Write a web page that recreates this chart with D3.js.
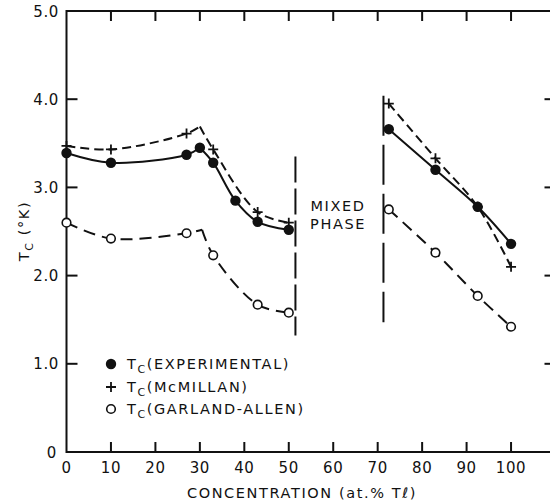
<html><head>
<meta charset="utf-8">
<script src="https://cdnjs.cloudflare.com/ajax/libs/d3/7.8.5/d3.min.js"></script>
<style>
  body { margin: 0; background: #fff; }
  text { font-family: "DejaVu Sans", sans-serif; fill: #111; }
  .tick-label { font-size: 15px; letter-spacing: 0.6px; }
  .lab { font-size: 14.5px; letter-spacing: 1.6px; }
</style>
</head>
<body>
<script>
// x ticks / y ticks
var xTicks = [0, 10, 20, 30, 40, 50, 60, 70, 80, 90, 100];
var yTicks = [0, 1, 2, 3, 4, 5];

// Tc experimental (filled circles, solid line)
var expLeftX = [0, 10, 27, 30, 33, 38, 43, 50];
var expLeftT = [3.39, 3.28, 3.37, 3.45, 3.28, 2.85, 2.61, 2.52];
var expRightX = [72.5, 83, 92.5, 100];
var expRightT = [3.66, 3.20, 2.78, 2.36];

// Tc McMillan (+, dashed); the peak at ~30 is a curve knot with no marker
var mcmLeftX = [0, 10, 27, 33, 43, 50];
var mcmLeftT = [3.47, 3.43, 3.61, 3.43, 2.72, 2.60];
var mcmPeak = [30, 3.69];
var mcmRightX = [72.5, 83, 92.5, 100];
var mcmRightT = [3.95, 3.33, 2.78, 2.10];

// Tc Garland-Allen (open circles, dashed)
var gaLeftX = [0, 10, 27, 33, 43, 50];
var gaLeftT = [2.60, 2.42, 2.48, 2.23, 1.67, 1.58];
var gaPeak = [30.5, 2.52];
var gaRightX = [72.5, 83, 92.5, 100];
var gaRightT = [2.75, 2.26, 1.77, 1.42];

// phase boundaries: concentration, Tc from, Tc to
var phaseX = [51.5, 71.3];
var phaseLo = [1.32, 1.47];
var phaseHi = [3.35, 4.04];

var legendNames = ["(EXPERIMENTAL)", "(McMILLAN)", "(GARLAND-ALLEN)"];

var W = 550, H = 504;
var svg = d3.select("body").append("svg").attr("width", W).attr("height", H);

var x = d3.scaleLinear().domain([0, 110]).range([66.5, 555.5]);
var y = d3.scaleLinear().domain([0, 5]).range([452, 11]);

// frame
var frame = svg.append("g").attr("stroke", "#111").attr("stroke-width", 2).attr("fill", "none");
frame.append("path").attr("d",
  "M" + x(0) + "," + y(5) + "L" + x(0) + "," + y(0) + "L" + x(110) + "," + y(0) +
  "L" + x(110) + "," + y(5) + "Z");

// ticks, all pointing into the plot
xTicks.forEach(function (t) {
  if (t === 0) return;
  frame.append("line").attr("x1", x(t)).attr("x2", x(t)).attr("y1", y(0)).attr("y2", y(0) - 10);
  frame.append("line").attr("x1", x(t)).attr("x2", x(t)).attr("y1", y(5)).attr("y2", y(5) + 10);
});
yTicks.forEach(function (t) {
  if (t === 0 || t === 5) return;
  frame.append("line").attr("x1", x(0)).attr("x2", x(0) + 11).attr("y1", y(t)).attr("y2", y(t));
  frame.append("line").attr("x1", x(110)).attr("x2", x(110) - 11).attr("y1", y(t)).attr("y2", y(t));
});

svg.selectAll(".xl").data(xTicks).enter().append("text")
  .attr("class", "tick-label")
  .attr("x", function (d) { return x(d); })
  .attr("y", 473)
  .attr("text-anchor", "middle")
  .text(function (d) { return d; });

svg.selectAll(".yl").data(yTicks).enter().append("text")
  .attr("class", "tick-label")
  .attr("x", function (d) { return d === 0 ? 57 : 59; })
  .attr("y", function (d) { return y(d) + 5.5; })
  .attr("text-anchor", "end")
  .text(function (d) { return d === 0 ? "0" : d.toFixed(1); });

// axis titles
svg.append("text").attr("class", "lab")
  .attr("x", 302).attr("y", 498).attr("text-anchor", "middle")
  .text("CONCENTRATION  (at.% T\u2113)");

var yt = svg.append("text").attr("class", "lab")
  .attr("transform", "translate(29,231) rotate(-90)")
  .attr("text-anchor", "middle");
yt.append("tspan").text("T");
yt.append("tspan").attr("font-size", "11px").attr("dy", 4).text("C");
yt.append("tspan").attr("dy", -4).text(" (\u00b0K)");

// curves
var line = d3.line()
  .x(function (d) { return x(d[0]); })
  .y(function (d) { return y(d[1]); })
  .curve(d3.curveCatmullRom.alpha(0.5));

function pts(xs, ts) { return xs.map(function (v, i) { return [v, ts[i]]; }); }
function drawCurve(p, dash) {
  svg.append("path").datum(p).attr("d", line)
    .attr("fill", "none").attr("stroke", "#111").attr("stroke-width", 2)
    .attr("stroke-dasharray", dash || null);
}

var expL = pts(expLeftX, expLeftT);
drawCurve(expL.slice(0, 4));
drawCurve(expL.slice(3));
drawCurve(pts(expRightX, expRightT));

var mcmL = pts(mcmLeftX, mcmLeftT);
drawCurve(mcmL.slice(0, 3).concat([mcmPeak]), "9,5");
drawCurve([mcmPeak].concat(mcmL.slice(3)), "9,5");
drawCurve(pts(mcmRightX, mcmRightT), "9,5");

var gaL = pts(gaLeftX, gaLeftT);
drawCurve(gaL.slice(0, 3).concat([gaPeak]), "12,7");
drawCurve([gaPeak].concat(gaL.slice(3)), "12,7");
drawCurve(pts(gaRightX, gaRightT), "12,7");

// phase boundaries
phaseX.forEach(function (p, i) {
  svg.append("line")
    .attr("x1", x(p)).attr("x2", x(p))
    .attr("y1", y(phaseHi[i])).attr("y2", y(phaseLo[i]))
    .attr("stroke", "#111").attr("stroke-width", 2)
    .attr("stroke-dasharray", i === 0 ? "26,6" : "40,9");
});
svg.append("text").attr("class", "lab").attr("x", 338).attr("y", 211)
  .attr("text-anchor", "middle").text("MIXED");
svg.append("text").attr("class", "lab").attr("x", 338).attr("y", 229)
  .attr("text-anchor", "middle").text("PHASE");

// markers
function filled(p) {
  svg.selectAll(null).data(p).enter().append("circle")
    .attr("cx", function (d) { return x(d[0]); })
    .attr("cy", function (d) { return y(d[1]); })
    .attr("r", 5.2).attr("fill", "#111");
}
function open(p) {
  svg.selectAll(null).data(p).enter().append("circle")
    .attr("cx", function (d) { return x(d[0]); })
    .attr("cy", function (d) { return y(d[1]); })
    .attr("r", 4.3).attr("fill", "#fff").attr("stroke", "#111").attr("stroke-width", 1.6);
}
function plus(p) {
  svg.selectAll(null).data(p).enter().append("path")
    .attr("d", function (d) {
      var cx = x(d[0]), cy = y(d[1]);
      return "M" + (cx - 5) + "," + cy + "H" + (cx + 5) + "M" + cx + "," + (cy - 5) + "V" + (cy + 5);
    })
    .attr("stroke", "#111").attr("stroke-width", 1.8).attr("fill", "none");
}

open(gaL.concat(pts(gaRightX, gaRightT)));
plus(mcmL.concat(pts(mcmRightX, mcmRightT)));
filled(expL.concat(pts(expRightX, expRightT)));

// legend
var ly = [364, 387, 409];
filled([[x.invert(111), y.invert(ly[0])]]);
plus([[x.invert(111), y.invert(ly[1])]]);
open([[x.invert(111), y.invert(ly[2])]]);
legendNames.forEach(function (n, i) {
  var t = svg.append("text").attr("class", "lab").attr("x", 127).attr("y", ly[i] + 5);
  t.append("tspan").text("T");
  t.append("tspan").attr("font-size", "11px").attr("dy", 4).text("C");
  t.append("tspan").attr("dy", -4).text(n);
});
</script>
</body></html>
